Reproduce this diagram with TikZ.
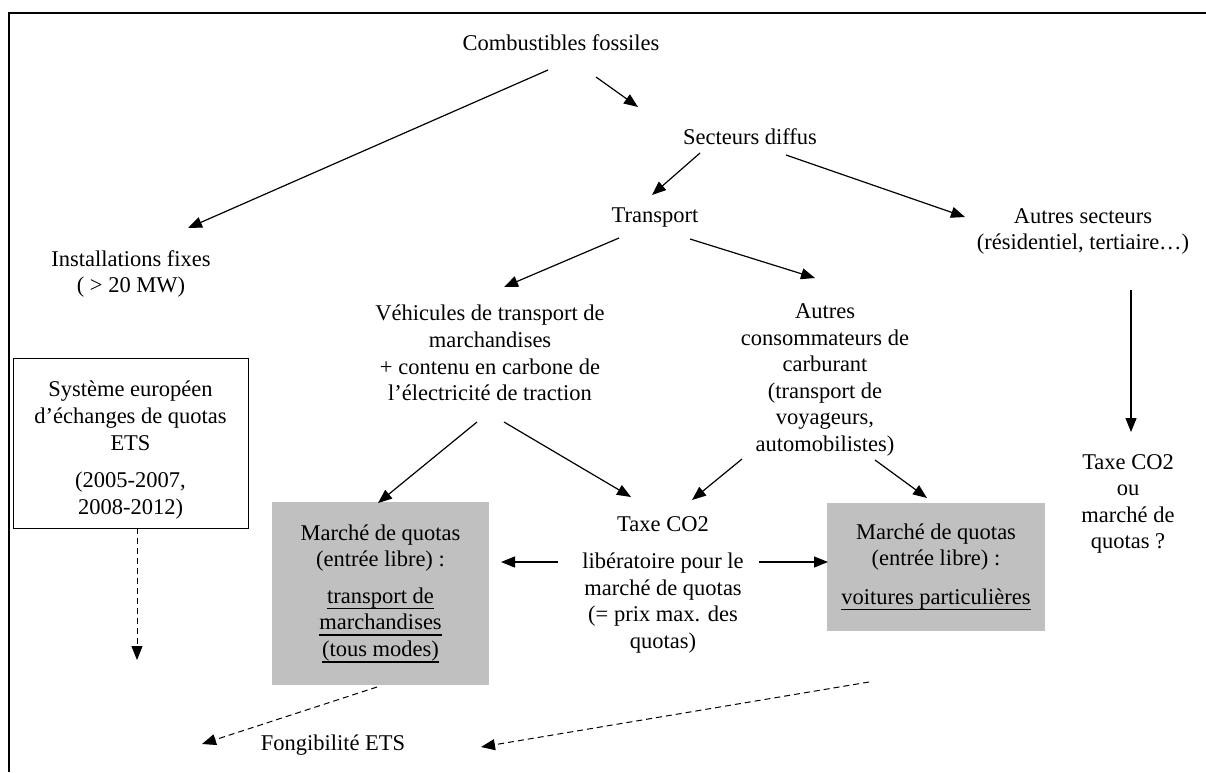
\documentclass[tikz,border=0pt]{standalone}
\usepackage{fontspec}
\setmainfont{Liberation Serif}
\usepackage{tikz}
\usetikzlibrary{arrows.meta,calc}
\definecolor{quotagray}{RGB}{192,192,192}
\newsavebox{\qulbox}
\newcommand{\quline}[1]{\sbox{\qulbox}{#1}\rlap{\rule[-6pt]{\wd\qulbox}{1.6pt}}\usebox{\qulbox}}

\begin{document}
\begin{tikzpicture}[
    x=1pt, y=-1pt,
    every node/.style={font=\fontsize{22.5}{26.6}\selectfont, inner sep=0pt},
    txt/.style={align=center},
    etsbox/.style={draw, line width=1pt, align=center,
                   minimum width=235pt, minimum height=170pt},
    quotabox/.style={fill=quotagray, align=center},
    arrow/.style={-{Triangle[length=14pt,width=11pt]}, line width=1.2pt},
    dasharrow/.style={-{Triangle[length=14pt,width=11pt]}, line width=1pt,
                      dash pattern=on 6pt off 4pt}
]
\useasboundingbox (0,0) rectangle (1206,772);

% Frame
\draw[line width=2pt] (8.5,772) -- (8.5,13) -- (1206,13);

% Nodes
\node[txt] (comb) at (561,43) {Combustibles fossiles};
\node[txt] (sect) at (750,137) {Secteurs diffus};
\node[txt] (trans) at (655,218) {Transport};
\node[txt] (autres) at (1083,231.5) {Autres secteurs\\(résidentiel, tertiaire…)};
\node[txt] (inst) at (131,274) {Installations fixes\\( > 20 MW)};
\node[txt] (vehic) at (490,353) {Véhicules de transport de\\marchandises\\+ contenu en carbone de\\l’électricité de traction};
\node[txt] (consom) at (825,380) {Autres\\consommateurs de\\carburant\\(transport de\\voyageurs,\\automobilistes)};
\node[etsbox] (ets) at (130.5,443) {\rule{0pt}{30pt}Système européen\\d’échanges de quotas\\ETS\\[11pt](2005-2007,\\2008-2012)};
\node[quotabox, minimum width=217pt, minimum height=183pt] (gbl) at (380.5,593.5)
    {Marché de quotas\\(entrée libre) :\\[10pt]\quline{transport de}\\\quline{marchandises}\\\quline{(tous modes)}};
\node[quotabox, minimum width=218pt, minimum height=128pt] (gbr) at (936,567)
    {Marché de quotas\\(entrée libre) :\\[12pt]\quline{voitures particulières}};
\node[txt] (taxe) at (663,585) {Taxe CO2\\[10pt]libératoire pour le\\marché de quotas\\(= prix max. des\\quotas)};
\node[txt] (taxou) at (1128,504) {Taxe CO2\\ou\\marché de\\quotas ?};
\node[txt] (fong) at (333,745) {Fongibilité ETS};

% Arrows
\draw[arrow] ($(comb)+(-13,27)$) -- ($(inst)+(57,-46)$);
\draw[arrow] ($(comb)+(35,34)$) -- ($(sect)+(-112,-30)$);
\draw[arrow] ($(sect)+(-50,16)$) -- ($(trans)+(-3,-23)$);
\draw[arrow] ($(sect)+(36,18)$) -- ($(autres)+(-118,-14.5)$);
\draw[arrow] ($(trans)+(-36,20)$) -- ($(vehic)+(14,-66)$);
\draw[arrow] ($(trans)+(35,21)$) -- ($(consom)+(-10,-102)$);
\draw[arrow] ($(autres)+(48,58.5)$) -- ($(taxou)+(3,-72)$);
\draw[arrow] ($(vehic)+(-13,69)$) -- ($(gbl)+(-2.5,-90.5)$);
\draw[arrow] ($(vehic)+(14,69)$) -- ($(taxe)+(-32,-88)$);
\draw[arrow] ($(consom)+(-83,79)$) -- ($(taxe)+(29,-85)$);
\draw[arrow] ($(consom)+(50,80)$) -- ($(gbr)+(-9,-69)$);
\draw[arrow] ($(taxe)+(-105,-23)$) -- ($(gbl)+(120.5,-31.5)$);
\draw[arrow] ($(taxe)+(96,-23)$) -- ($(gbr)+(-108,-5)$);

% Dashed arrows
\draw[dasharrow] ($(ets)+(6.5,85)$) -- ($(ets)+(6.5,217)$);
\draw[dasharrow] ($(gbl)+(-3.5,93.5)$) -- ($(fong)+(-131,-1)$);
\draw[dasharrow] ($(gbr)+(-67,115)$) -- ($(fong)+(148,2)$);

\end{tikzpicture}
\end{document}
